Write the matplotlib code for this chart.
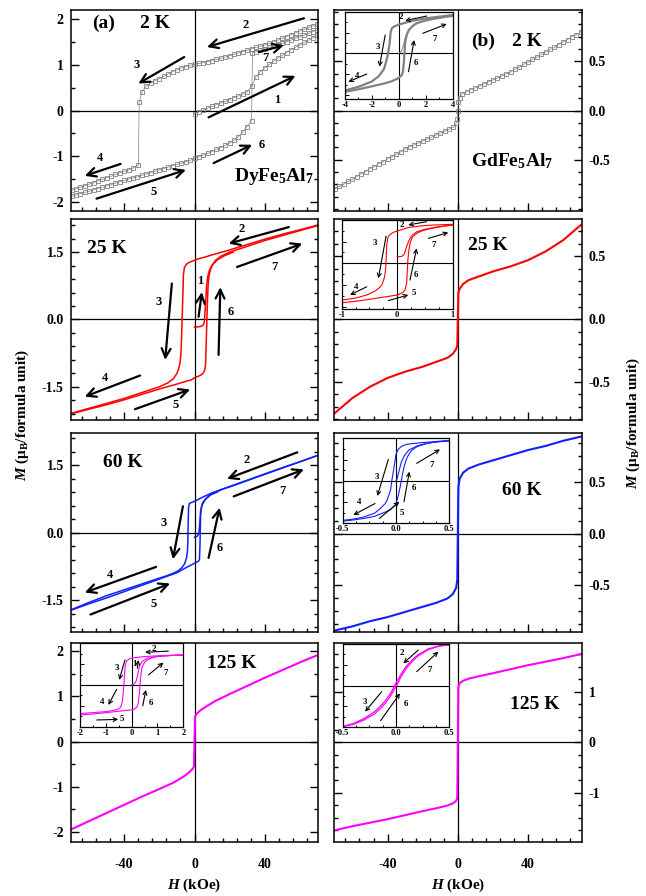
import matplotlib
matplotlib.use("Agg")
import matplotlib.pyplot as plt
from matplotlib.ticker import MultipleLocator, FixedLocator, FormatStrFormatter

# === STILE ===
plt.rcParams.update({
    "font.family": "Liberation Serif",
    "font.weight": "bold",
    "axes.unicode_minus": False,
    "mathtext.fontset": "custom",
    "mathtext.rm": "Liberation Serif:bold",
    "mathtext.it": "Liberation Serif:italic:bold",
    "mathtext.bf": "Liberation Serif:bold",
    "axes.linewidth": 1.1,
})
GRAY = "#808080"
RED = "#ff0000"
BLUE = "#1020ff"
MAG = "#ff00ff"

# === DATI: DyFe5Al7, 2 K (punti) ===
DY2_B1_H = [0, 2.5, 5, 7.5, 10, 12.5, 15, 17.5, 20, 22.5, 25, 27.5, 30, 32.5, 35,
            37.5, 40, 42.5, 45, 47.5, 50, 52.5, 55, 57.5, 60, 62.5, 65, 67.5, 70]
DY2_B1_M = [-0.07, -0.03, 0.01, 0.05, 0.09, 0.13, 0.17, 0.20, 0.24, 0.28, 0.32, 0.36,
            0.41, 0.53, 0.74, 0.85, 0.93, 1.01, 1.08, 1.15, 1.21, 1.27, 1.33, 1.38,
            1.44, 1.49, 1.54, 1.59, 1.65]
DY2_DN_H = [70, 67.5, 65, 62.5, 60, 57.5, 55, 52.5, 50, 47.5, 45, 42.5, 40, 37.5, 35,
            32.5, 30, 27.5, 25, 22.5, 20, 17.5, 15, 12.5, 10, 7.5, 5, 2.5, 0, -2.5,
            -5, -7.5, -10, -12.5, -15, -17.5, -20, -22.5, -25, -27.5, -30, -31.5, -32,
            -35, -37.5, -40, -42.5, -45, -47.5, -50, -52.5, -55, -57.5, -60, -62.5,
            -65, -67.5, -70]
DY2_DN_M = [1.90, 1.86, 1.82, 1.78, 1.74, 1.70, 1.66, 1.62, 1.58, 1.54, 1.50, 1.47,
            1.44, 1.41, 1.38, 1.35, 1.32, 1.29, 1.26, 1.23, 1.20, 1.17, 1.14, 1.12,
            1.09, 1.07, 1.05, 1.03, 1.01, 0.99, 0.96, 0.93, 0.89, 0.85, 0.80, 0.75,
            0.70, 0.65, 0.60, 0.53, 0.40, 0.18, -1.20, -1.26, -1.30, -1.33, -1.36,
            -1.40, -1.44, -1.47, -1.51, -1.54, -1.58, -1.61, -1.65, -1.68, -1.72, -1.75]
DY2_UP_H = [-70, -67.5, -65, -62.5, -60, -57.5, -55, -52.5, -50, -47.5, -45, -42.5,
            -40, -37.5, -35, -32.5, -30, -27.5, -25, -22.5, -20, -17.5, -15, -12.5,
            -10, -7.5, -5, -2.5, 0, 2.5, 5, 7.5, 10, 12.5, 15, 17.5, 20, 22.5, 25,
            27.5, 30, 32.5, 33, 35, 37.5, 40, 42.5, 45, 47.5, 50, 52.5, 55, 57.5, 60,
            62.5, 65, 67.5, 70]
DY2_UP_M = [-1.88, -1.85, -1.82, -1.79, -1.77, -1.74, -1.71, -1.68, -1.65, -1.62,
            -1.59, -1.56, -1.53, -1.50, -1.48, -1.45, -1.42, -1.39, -1.36, -1.33,
            -1.30, -1.27, -1.24, -1.21, -1.18, -1.15, -1.12, -1.09, -1.05, -1.01,
            -0.98, -0.94, -0.90, -0.85, -0.81, -0.76, -0.71, -0.65, -0.57, -0.47,
            -0.35, -0.22, 1.27, 1.29, 1.32, 1.35, 1.38, 1.41, 1.44, 1.47, 1.51, 1.54,
            1.58, 1.61, 1.65, 1.69, 1.73, 1.77]

# === DATI: DyFe5Al7, 25 K ===
DY25_DN_H = [70, 60, 50, 40, 30, 20, 10, 5, 2, 0, -2, -4, -5, -5.8, -6.3, -6.6, -6.9,
             -7.2, -7.5, -7.8, -8.3, -9, -10, -12, -15, -20, -30, -40, -50, -60, -70]
DY25_DN_M = [2.10, 2.00, 1.90, 1.79, 1.67, 1.55, 1.44, 1.38, 1.35, 1.32, 1.29, 1.25,
             1.21, 1.15, 1.00, 0.60, 0.20, -0.20, -0.55, -0.80, -0.98, -1.10, -1.20,
             -1.32, -1.41, -1.50, -1.63, -1.76, -1.87, -1.98, -2.09]
DY25_UP_H = [-70, -60, -50, -40, -30, -20, -10, -5, -2, 0, 2, 4, 5, 5.8, 6.3, 6.6, 6.9,
             7.2, 7.5, 7.8, 8.3, 9, 10, 12, 15, 20, 30, 40, 50, 60, 70]
DY25_UP_M = [-2.10, -2.00, -1.90, -1.79, -1.67, -1.55, -1.44, -1.38, -1.35, -1.30,
             -1.27, -1.23, -1.19, -1.13, -1.00, -0.60, -0.20, 0.20, 0.55, 0.80, 0.98,
             1.10, 1.20, 1.32, 1.41, 1.50, 1.63, 1.76, 1.87, 1.98, 2.09]
DY25_V_H = [0, 2, 4, 5, 5.6, 6.2, 6.8, 7.5, 8.5, 10, 13, 17, 22]
DY25_V_M = [-0.17, -0.165, -0.15, -0.12, -0.05, 0.30, 0.70, 0.95, 1.10, 1.21, 1.33,
            1.42, 1.50]

# === DATI: DyFe5Al7, 60 K ===
DY60_DN_H = [70, 60, 50, 40, 30, 20, 10, 5, 2, 0, -2, -3, -3.4, -3.6, -3.8, -4, -4.5,
             -5.5, -7, -9, -12, -16, -20, -30, -40, -50, -60, -70]
DY60_DN_M = [1.72, 1.58, 1.45, 1.31, 1.17, 1.03, 0.89, 0.80, 0.74, 0.70, 0.67, 0.65,
             0.55, 0.20, -0.20, -0.40, -0.55, -0.68, -0.77, -0.84, -0.90, -0.96,
             -1.01, -1.14, -1.27, -1.40, -1.55, -1.71]
DY60_UP_H = [-70, -60, -50, -40, -30, -20, -10, -5, -2, 0, 2, 2.8, 3.1, 3.3, 3.5, 3.9,
             4.5, 5.5, 7, 9, 12, 16, 20, 30, 40, 50, 60, 70]
DY60_UP_M = [-1.72, -1.58, -1.45, -1.31, -1.17, -1.03, -0.89, -0.78, -0.72, -0.68,
             -0.64, -0.60, -0.30, 0.10, 0.40, 0.55, 0.63, 0.70, 0.78, 0.85, 0.90,
             0.97, 1.02, 1.16, 1.30, 1.44, 1.58, 1.72]
DY60_V_H = [0, 1.5, 2.5, 3, 3.5, 4.5, 6, 9, 13]
DY60_V_M = [-0.10, -0.08, -0.02, 0.20, 0.50, 0.66, 0.74, 0.84, 0.91]

# === DATI: DyFe5Al7, 125 K ===
DY125_H = [-70, -60, -50, -40, -30, -20, -12, -6, -3, -1, -0.3, 0.3, 1, 3, 6, 12, 20,
           30, 40, 50, 60, 70]
DY125_M = [-1.94, -1.76, -1.58, -1.40, -1.22, -1.05, -0.91, -0.77, -0.68, -0.60, -0.55,
           0.55, 0.60, 0.68, 0.76, 0.90, 1.05, 1.23, 1.41, 1.58, 1.75, 1.91]
# inset (-2..2 kOe)
DY125I_DN_H = [2, 1.5, 1, 0.5, 0.2, 0, -0.1, -0.2, -0.25, -0.28, -0.32, -0.36, -0.42,
               -0.5, -0.7, -1, -1.5, -2]
DY125I_DN_M = [1.44, 1.42, 1.40, 1.36, 1.32, 1.28, 1.24, 1.15, 0.90, 0.40, -0.30,
               -0.80, -1.05, -1.15, -1.22, -1.28, -1.33, -1.37]
DY125I_UP_H = [-2, -1.5, -1, -0.5, -0.2, 0, 0.1, 0.2, 0.25, 0.3, 0.33, 0.36, 0.4, 0.5,
               0.6, 0.8, 1, 1.5, 2]
DY125I_UP_M = [-1.44, -1.39, -1.33, -1.26, -1.22, -1.20, -1.16, -1.07, -0.90, -0.40,
               0.10, 0.50, 0.85, 1.08, 1.20, 1.31, 1.36, 1.41, 1.44]
DY125I_V_H = [0, 0.1, 0.18, 0.25, 0.3, 0.4, 0.6, 1, 1.5, 2]
DY125I_V_M = [0.0, 0.05, 0.20, 0.60, 0.90, 1.12, 1.28, 1.37, 1.41, 1.44]

# === DATI: GdFe5Al7 ===
GD2_H = [-70, -67.5, -65, -62.5, -60, -57.5, -55, -52.5, -50, -47.5, -45, -42.5, -40,
         -37.5, -35, -32.5, -30, -27.5, -25, -22.5, -20, -17.5, -15, -12.5, -10, -7.5,
         -5, -2.5, -1, -0.3, 0, 0.3, 1, 2.5, 5, 7.5, 10, 12.5, 15, 17.5, 20, 22.5, 25,
         27.5, 30, 32.5, 35, 37.5, 40, 42.5, 45, 47.5, 50, 52.5, 55, 57.5, 60, 62.5,
         65, 67.5, 70]
GD2_M = [-0.80, -0.77, -0.75, -0.72, -0.70, -0.67, -0.64, -0.62, -0.59, -0.57, -0.54,
         -0.52, -0.49, -0.47, -0.44, -0.42, -0.39, -0.37, -0.35, -0.33, -0.31, -0.29,
         -0.27, -0.25, -0.23, -0.21, -0.19, -0.17, -0.13, -0.09, 0.0, 0.09, 0.13, 0.17,
         0.19, 0.21, 0.23, 0.25, 0.27, 0.29, 0.31, 0.33, 0.35, 0.37, 0.39, 0.42, 0.44,
         0.47, 0.49, 0.52, 0.54, 0.57, 0.59, 0.62, 0.64, 0.67, 0.70, 0.72, 0.75, 0.77,
         0.80]
GD_H = [-70, -60, -50, -40, -30, -20, -12, -6, -3, -1, -0.3, 0.3, 1, 3, 6, 12, 20, 30,
        40, 50, 60, 70]
GD25_M = [-0.75, -0.63, -0.54, -0.47, -0.42, -0.38, -0.34, -0.31, -0.28, -0.24, -0.21,
          0.21, 0.24, 0.28, 0.31, 0.34, 0.38, 0.42, 0.47, 0.54, 0.63, 0.75]
GD60_M = [-0.94, -0.90, -0.85, -0.81, -0.76, -0.71, -0.67, -0.63, -0.59, -0.53, -0.45,
          0.45, 0.53, 0.59, 0.63, 0.67, 0.71, 0.76, 0.81, 0.85, 0.90, 0.94]
GD125_M = [-1.75, -1.67, -1.60, -1.53, -1.45, -1.37, -1.31, -1.26, -1.22, -1.17, -1.10,
           1.10, 1.17, 1.22, 1.26, 1.31, 1.37, 1.45, 1.53, 1.60, 1.67, 1.75]

# inset GdFe5Al7 2 K (-4..4 kOe)
GD2I_DN_H = [4, 3, 2, 1, 0.5, 0, -0.3, -0.5, -0.6, -0.65, -0.7, -0.8, -0.9, -1.1, -1.5,
             -2, -3, -4]
GD2I_DN_M = [0.184, 0.176, 0.168, 0.156, 0.147, 0.138, 0.130, 0.122, 0.105, 0.070,
             0.040, 0.0, -0.030, -0.075, -0.110, -0.135, -0.160, -0.178]
GD2I_UP_H = [-4, -3, -2, -1, -0.5, 0, 0.2, 0.3, 0.35, 0.4, 0.45, 0.5, 0.6, 0.75, 1, 1.3,
             2, 3, 4]
GD2I_UP_M = [-0.184, -0.172, -0.158, -0.143, -0.133, -0.118, -0.105, -0.090, -0.060,
             -0.020, 0.030, 0.065, 0.090, 0.112, 0.130, 0.144, 0.158, 0.170, 0.180]
GD2I_V_H = [0, 0.2, 0.35, 0.5, 0.7, 1, 1.5, 2.5, 4]
GD2I_V_M = [0.0, 0.01, 0.04, 0.08, 0.11, 0.13, 0.148, 0.165, 0.182]

# inset GdFe5Al7 25 K (-1..1 kOe)
GD25I_DN_H = [1, 0.8, 0.6, 0.4, 0.2, 0.05, -0.05, -0.1, -0.14, -0.17, -0.19, -0.2,
              -0.21, -0.23, -0.27, -0.31, -0.4, -0.55, -0.75, -1]
GD25I_DN_M = [0.180, 0.178, 0.176, 0.172, 0.165, 0.153, 0.145, 0.138, 0.130, 0.118,
              0.080, 0.020, -0.030, -0.065, -0.095, -0.110, -0.128, -0.146, -0.160,
              -0.170]
GD25I_UP_H = [-1, -0.75, -0.5, -0.25, 0, 0.1, 0.14, 0.17, 0.18, 0.19, 0.21, 0.23, 0.27,
              0.35, 0.45, 0.6, 0.8, 1]
GD25I_UP_M = [-0.182, -0.175, -0.166, -0.156, -0.146, -0.135, -0.123, -0.090, -0.040,
              0.010, 0.060, 0.092, 0.120, 0.138, 0.150, 0.160, 0.170, 0.177]
GD25I_V_H = [0, 0.08, 0.12, 0.15, 0.18, 0.22, 0.27, 0.35, 0.5, 0.7, 1]
GD25I_V_M = [0.030, 0.032, 0.040, 0.060, 0.085, 0.110, 0.130, 0.145, 0.157, 0.167,
             0.177]

# inset GdFe5Al7 60 K (-0.5..0.5 kOe)
GD60I_DN_H = [0.5, 0.4, 0.3, 0.2, 0.1, 0.05, 0.02, 0.0, -0.02, -0.04, -0.05, -0.08,
              -0.1, -0.15, -0.2, -0.3, -0.4, -0.5]
GD60I_DN_M = [0.189, 0.186, 0.182, 0.178, 0.172, 0.162, 0.148, 0.125, 0.060, 0.0,
              -0.040, -0.085, -0.105, -0.130, -0.150, -0.168, -0.178, -0.184]
GD60I_UP_H = [-0.5, -0.4, -0.3, -0.2, -0.1, -0.05, 0, 0.02, 0.04, 0.06, 0.08, 0.1, 0.12,
              0.15, 0.2, 0.3, 0.4, 0.5]
GD60I_UP_M = [-0.188, -0.182, -0.175, -0.165, -0.145, -0.133, -0.108, -0.070, -0.025,
              0.030, 0.075, 0.105, 0.125, 0.145, 0.162, 0.177, 0.185, 0.189]
GD60I_V_H = [0, 0.01, 0.03, 0.05, 0.08, 0.12, 0.2, 0.3, 0.5]
GD60I_V_M = [0.0, 0.010, 0.050, 0.090, 0.120, 0.145, 0.165, 0.178, 0.189]

# inset GdFe5Al7 125 K (-0.5..0.5 kOe)
GD125I_DN_H = [0.5, 0.4, 0.3, 0.2, 0.15, 0.1, 0.05, 0, -0.05, -0.1, -0.15, -0.2, -0.3,
               -0.4, -0.5]
GD125I_DN_M = [0.196, 0.190, 0.176, 0.145, 0.122, 0.095, 0.058, 0.012, -0.036, -0.072,
               -0.100, -0.125, -0.158, -0.182, -0.196]
GD125I_UP_H = [-0.5, -0.4, -0.3, -0.2, -0.15, -0.1, -0.05, 0, 0.05, 0.1, 0.15, 0.2, 0.3,
               0.4, 0.5]
GD125I_UP_M = [-0.197, -0.186, -0.165, -0.135, -0.112, -0.085, -0.048, -0.005, 0.045,
               0.085, 0.115, 0.140, 0.172, 0.189, 0.196]

# === FRECCE (x0, y0, x1, y1, etichetta, x_etichetta, y_etichetta) ===
ARR_DY2 = [(62.3, 2.02, 7.1, 1.39, "2", 29, 1.87),
           (36.6, 1.28, 50.9, 1.43, "7", 40.3, 1.15),
           (-5.9, 1.17, -32, 0.59, "3", -33, 1.0),
           (8, -0.15, 57.5, 0.76, "1", 47, 0.22),
           (10.9, -1.15, 32.8, -0.75, "6", 38.5, -0.75),
           (-42.1, -1.17, -62.5, -1.43, "4", -54, -1.03),
           (-55.8, -1.93, -4.9, -1.30, "5", -23.4, -1.79)]
ARR_DY25 = [(53.7, 2.06, 19.4, 1.69, "2", 27, 2.02),
            (24.2, 1.17, 61.4, 1.69, "7", 45.2, 1.17),
            (-12.9, 0.80, -16.7, -0.90, "3", -20.6, 0.39),
            (2.3, 0.06, 4.2, 0.61, "1", 3.2, 0.85),
            (13.7, -0.79, 14.7, 0.72, "6", 20.4, 0.17),
            (-31, -1.25, -62.5, -1.72, "4", -51, -1.31),
            (-33.9, -2.0, -2.5, -1.56, "5", -11, -1.90)]
ARR_DY60 = [(58.5, 1.79, 18.5, 1.20, "2", 29.9, 1.61),
            (22.3, 0.81, 62.3, 1.41, "7", 49.9, 0.92),
            (-6.6, 0.59, -12.3, -0.59, "3", -17.7, 0.22),
            (8, -0.56, 14.3, 0.56, "6", 14.3, -0.33),
            (-21.9, -0.76, -62.5, -1.33, "4", -48.2, -0.95),
            (-59.2, -1.82, -13.9, -1.13, "5", -23.4, -1.59)]
ARR_DY125I = [(1.42, 1.62, 0.52, 1.57, "2", 0.86, 1.72),
              (-0.26, 1.2, -0.48, 0.24, "3", -0.58, 0.8),
              (0.22, 0.8, 0.26, 1.2, "1", 0.12, 1.0),
              (0.65, 0.48, 1.23, 1.07, "7", 1.32, 0.56),
              (0.43, -1.0, 0.55, -0.24, "6", 0.75, -0.85),
              (-0.58, -0.21, -0.9, -0.96, "4", -1.16, -0.8),
              (-1.35, -1.68, -0.52, -1.65, "5", -0.36, -1.65)]
ARR_GD2I = [(2.08, 0.179, 0.47, 0.157, "2", 0.15, 0.172),
            (1.78, 0.096, 3.56, 0.141, "7", 2.7, 0.067),
            (-1.01, 0.088, -1.44, -0.064, "3", -1.55, 0.032),
            (0.72, -0.088, 1.14, 0.064, "6", 1.25, -0.048),
            (-2.38, -0.099, -3.74, -0.136, "4", -3.1, -0.109)]
ARR_GD25I = [(0.53, 0.192, 0.2, 0.177, "2", 0.09, 0.177),
             (0.56, 0.115, 0.92, 0.142, "7", 0.65, 0.085),
             (-0.2, 0.126, -0.34, -0.069, "3", -0.41, 0.092),
             (0.23, -0.077, 0.35, 0.069, "6", 0.34, -0.054),
             (-0.55, -0.108, -0.85, -0.146, "4", -0.74, -0.108),
             (-0.16, -0.172, 0.2, -0.146, "5", 0.3, -0.138)]
ARR_GD60I = [(-0.072, 0.101, -0.175, -0.07, "3", -0.18, 0.02),
             (-0.197, -0.105, -0.4, -0.159, "4", -0.344, -0.097),
             (-0.156, -0.175, 0.031, -0.097, "5", 0.053, -0.151),
             (0.075, -0.097, 0.125, 0.044, "6", 0.172, -0.034),
             (0.194, 0.083, 0.413, 0.148, "7", 0.334, 0.075)]
ARR_GD125I = [(0.209, 0.171, 0.069, 0.107, "2", 0.053, 0.155),
              (0.194, 0.067, 0.397, 0.163, "7", 0.319, 0.075),
              (-0.134, -0.029, -0.29, -0.125, "3", -0.29, -0.077),
              (-0.144, -0.168, 0.0375, -0.037, "6", 0.094, -0.088)]


def style_main(ax, ylim, yticks, yminor, fmt, side, show_x):
    ax.set_xlim(-70.5, 70.5)
    ax.set_ylim(*ylim)
    ax.xaxis.set_major_locator(MultipleLocator(40))
    ax.xaxis.set_minor_locator(MultipleLocator(8))
    ax.yaxis.set_major_locator(FixedLocator(yticks))
    ax.yaxis.set_minor_locator(MultipleLocator(yminor))
    ax.yaxis.set_major_formatter(FormatStrFormatter(fmt))
    ax.tick_params(which="both", direction="in", left=True, right=True, top=False,
                   bottom=True, width=1.0)
    ax.tick_params(which="major", length=6)
    ax.tick_params(which="minor", length=3)
    ax.tick_params(axis="y", labelleft=(side == "left"), labelright=(side == "right"),
                   labelsize=10, pad=5)
    ax.tick_params(axis="x", labelbottom=show_x, labelsize=10, pad=11)
    ax.axhline(0, color="k", lw=0.9, zorder=1)
    ax.axvline(0, color="k", lw=0.9, zorder=1)


def make_inset(rect, xlim, ylim, xmajor, xminor, xfmt, ystep):
    ins = fig.add_axes(rect, zorder=5)
    ins.set_facecolor("white")
    ins.set_xlim(*xlim)
    ins.set_ylim(*ylim)
    ins.xaxis.set_major_locator(MultipleLocator(xmajor))
    ins.xaxis.set_minor_locator(MultipleLocator(xminor))
    ins.xaxis.set_major_formatter(FormatStrFormatter(xfmt))
    ins.yaxis.set_major_locator(MultipleLocator(ystep))
    ins.yaxis.set_minor_locator(MultipleLocator(ystep / 2))
    ins.tick_params(which="both", direction="in", top=False, right=False, width=0.7,
                    labelleft=False, labelsize=6, pad=1.5)
    ins.tick_params(which="major", length=3)
    ins.tick_params(which="minor", length=1.5)
    for s in ins.spines.values():
        s.set_linewidth(0.9)
    ins.axhline(0, color="k", lw=0.8, zorder=1)
    ins.axvline(0, color="k", lw=0.8, zorder=1)
    return ins


def arrows(ax, specs, lw, ms, fs):
    for x0, y0, x1, y1, lab, lx, ly in specs:
        ax.annotate("", xy=(x1, y1), xytext=(x0, y0),
                    arrowprops=dict(arrowstyle="->", color="k", lw=lw, shrinkA=0,
                                    shrinkB=0, mutation_scale=ms), zorder=6)
        ax.text(lx, ly, lab, fontsize=fs, ha="center", va="center", zorder=6)


# === FIGURA ===
fig = plt.figure(figsize=(6.46, 8.96), dpi=100)
LX, RX, W = 0.1094, 0.517, 0.3834
ROWS = [(0.7645, 0.2243), (0.5313, 0.2238), (0.2946, 0.2221), (0.0599, 0.2230)]

axL = [fig.add_axes([LX, b, W, h]) for b, h in ROWS]
axR = [fig.add_axes([RX, b, W, h]) for b, h in ROWS]

sq = dict(marker="s", ms=3.0, mfc="none", mec=GRAY, mew=0.6, color=GRAY, lw=0.5)

# --- (a) DyFe5Al7 2 K
ax = axL[0]
ax.plot(DY2_B1_H, DY2_B1_M, **sq)
ax.plot(DY2_DN_H, DY2_DN_M, **sq)
ax.plot(DY2_UP_H, DY2_UP_M, **sq)
style_main(ax, (-2.2, 2.2), [-2, -1, 0, 1, 2], 0.5, "%d", "left", False)
arrows(ax, ARR_DY2, 1.6, 16, 9)
ax.text(-52, 1.9, "(a)", fontsize=14, ha="center", va="center")
ax.text(-22.7, 1.9, "2 K", fontsize=14, ha="center", va="center")
ax.text(45, -1.45, "DyFe$_5$Al$_7$", fontsize=14, ha="center", va="center")

# --- 25 K
ax = axL[1]
for h, m in [(DY25_DN_H, DY25_DN_M), (DY25_UP_H, DY25_UP_M), (DY25_V_H, DY25_V_M)]:
    ax.plot(h, m, color=RED, lw=1.1)
style_main(ax, (-2.24, 2.23), [-1.5, 0, 1.5], 0.3, "%.1f", "left", False)
arrows(ax, ARR_DY25, 1.6, 16, 9)
ax.text(-50, 1.58, "25 K", fontsize=14, ha="center", va="center")

# --- 60 K
ax = axL[2]
for h, m in [(DY60_DN_H, DY60_DN_M), (DY60_UP_H, DY60_UP_M), (DY60_V_H, DY60_V_M)]:
    ax.plot(h, m, color=BLUE, lw=1.1)
style_main(ax, (-2.21, 2.22), [-1.5, 0, 1.5], 0.3, "%.1f", "left", False)
arrows(ax, ARR_DY60, 1.6, 16, 9)
ax.text(-40.6, 1.56, "60 K", fontsize=14, ha="center", va="center")

# --- 125 K
ax = axL[3]
ax.plot(DY125_H, DY125_M, color=MAG, lw=1.5)
style_main(ax, (-2.23, 2.19), [-2, -1, 0, 1, 2], 0.5, "%d", "left", True)
ax.text(21.4, 1.72, "125 K", fontsize=14, ha="center", va="center")
ins = make_inset([0.1238, 0.1883, 0.160, 0.0938], (-2, 2), (-2.03, 2.0), 1, 0.5, "%d", 1)
for h, m in [(DY125I_DN_H, DY125I_DN_M), (DY125I_UP_H, DY125I_UP_M),
             (DY125I_V_H, DY125I_V_M)]:
    ins.plot(h, m, color=MAG, lw=0.8)
arrows(ins, ARR_DY125I, 0.8, 7, 6.5)

# --- (b) GdFe5Al7 2 K
ax = axR[0]
ax.plot(GD2_H, GD2_M, **sq)
style_main(ax, (-1.02, 1.02), [-0.5, 0, 0.5], 0.125, "%.1f", "right", False)
ax.text(14.1, 0.70, "(b)", fontsize=14, ha="center", va="center")
ax.text(39.5, 0.70, "2 K", fontsize=14, ha="center", va="center")
ax.text(31.1, -0.51, "GdFe$_5$Al$_7$", fontsize=14, ha="center", va="center")
ins = make_inset([0.534, 0.8892, 0.1667, 0.0978], (-4, 4), (-0.22, 0.2), 2, 1, "%d", 0.1)
ins.plot(GD2I_DN_H, GD2I_DN_M, color=GRAY, lw=1.6)
ins.plot(GD2I_UP_H, GD2I_UP_M, color=GRAY, lw=1.6)
ins.plot(GD2I_V_H, GD2I_V_M, color=GRAY, lw=0.7)
arrows(ins, ARR_GD2I, 0.8, 7, 6.5)

# --- 25 K
ax = axR[1]
ax.plot(GD_H, GD25_M, color=RED, lw=1.5)
style_main(ax, (-0.805, 0.795), [-0.5, 0, 0.5], 0.1, "%.1f", "right", False)
ax.text(17, 0.59, "25 K", fontsize=14, ha="center", va="center")
ins = make_inset([0.529, 0.6548, 0.1718, 0.0997], (-1, 1), (-0.212, 0.2), 1, 0.25, "%d", 0.1)
for h, m in [(GD25I_DN_H, GD25I_DN_M), (GD25I_UP_H, GD25I_UP_M), (GD25I_V_H, GD25I_V_M)]:
    ins.plot(h, m, color=RED, lw=0.8)
arrows(ins, ARR_GD25I, 0.8, 7, 6.5)

# --- 60 K
ax = axR[2]
ax.plot(GD_H, GD60_M, color=BLUE, lw=1.5)
style_main(ax, (-0.955, 0.975), [-0.5, 0, 0.5], 0.125, "%.1f", "right", False)
ax.text(36.2, 0.42, "60 K", fontsize=14, ha="center", va="center")
ins = make_inset([0.5305, 0.4166, 0.165, 0.0942], (-0.5, 0.5), (-0.195, 0.2), 0.5, 0.125,
                 "%.1f", 0.1)
for h, m in [(GD60I_DN_H, GD60I_DN_M), (GD60I_UP_H, GD60I_UP_M), (GD60I_V_H, GD60I_V_M)]:
    ins.plot(h, m, color=BLUE, lw=0.8)
arrows(ins, ARR_GD60I, 0.8, 7, 6.5)

# --- 125 K
ax = axR[3]
ax.plot(GD_H, GD125_M, color=MAG, lw=1.5)
style_main(ax, (-1.99, 1.98), [-1, 0, 1], 0.25, "%d", "right", True)
ax.text(43.7, 0.75, "125 K", fontsize=14, ha="center", va="center")
ins = make_inset([0.5305, 0.1883, 0.165, 0.093], (-0.5, 0.5), (-0.2, 0.2), 0.5, 0.125,
                 "%.1f", 0.1)
ins.plot(GD125I_DN_H, GD125I_DN_M, color=MAG, lw=0.9)
ins.plot(GD125I_UP_H, GD125I_UP_M, color=MAG, lw=0.9)
arrows(ins, ARR_GD125I, 0.8, 7, 6.5)

# === ETICHETTE ASSI ===
ylab = r"$\mathit{M}$ (μ$_{\mathrm{B}}$/formula unit)"
fig.text(0.034, 0.537, ylab, rotation=90, fontsize=11, ha="center", va="center")
fig.text(0.980, 0.528, ylab, rotation=90, fontsize=11, ha="center", va="center")
fig.text(0.301, 0.012, r"$\mathit{H}$ (kOe)", fontsize=11, ha="center", va="center")
fig.text(0.709, 0.012, r"$\mathit{H}$ (kOe)", fontsize=11, ha="center", va="center")

fig.savefig("out.png", dpi=100)
